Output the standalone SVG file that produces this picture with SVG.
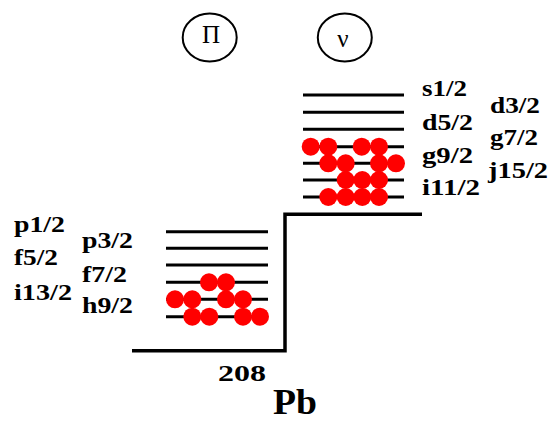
<svg xmlns="http://www.w3.org/2000/svg" width="554" height="421" viewBox="0 0 554 421">
<style>
.lvl{stroke:#000;stroke-width:3;fill:none}
.step{stroke:#000;stroke-width:3.5;fill:none}
.nuc{fill:#ff0000}
.lab{font-family:"Liberation Serif","DejaVu Serif",serif;font-weight:bold;font-size:23.5px;fill:#000}
.sym{font-family:"Liberation Serif",serif;font-size:25px;fill:#000}
.ring{fill:none;stroke:#000;stroke-width:2}
</style>
<rect width="554" height="421" fill="#fff"/>
<g id="connectors">
<polyline class="step" points="132,350.8 285,350.8 285,214.3 422,214.3"/>
</g>
<g id="proton-label">
<ellipse class="ring" cx="209.7" cy="37.5" rx="27" ry="24"/>
<text class="sym" x="211" y="43" text-anchor="middle">Π</text>
</g>
<g id="neutron-label">
<ellipse class="ring" cx="344.8" cy="37.5" rx="27" ry="24"/>
<text class="sym" x="343" y="47" text-anchor="middle">ν</text>
</g>
<g id="proton-levels">
<line class="lvl" x1="166" y1="231.7" x2="268" y2="231.7"/>
<line class="lvl" x1="166" y1="248.3" x2="268" y2="248.3"/>
<line class="lvl" x1="166" y1="265" x2="268" y2="265"/>
<line class="lvl" x1="166" y1="282.3" x2="268" y2="282.3"/>
<line class="lvl" x1="166" y1="299.3" x2="268" y2="299.3"/>
<line class="lvl" x1="166" y1="316.7" x2="268" y2="316.7"/>
<circle class="nuc" cx="209" cy="282.3" r="9"/>
<circle class="nuc" cx="226" cy="282.3" r="9"/>
<circle class="nuc" cx="175" cy="299.3" r="9"/>
<circle class="nuc" cx="192.3" cy="299.3" r="9"/>
<circle class="nuc" cx="226" cy="299.3" r="9"/>
<circle class="nuc" cx="243" cy="299.3" r="9"/>
<circle class="nuc" cx="192.3" cy="316.7" r="9"/>
<circle class="nuc" cx="209.3" cy="316.7" r="9"/>
<circle class="nuc" cx="243" cy="316.7" r="9"/>
<circle class="nuc" cx="260" cy="316.7" r="9"/>
</g>
<g id="neutron-levels">
<line class="lvl" x1="303" y1="95" x2="404" y2="95"/>
<line class="lvl" x1="303" y1="112.3" x2="404" y2="112.3"/>
<line class="lvl" x1="303" y1="129.3" x2="404" y2="129.3"/>
<line class="lvl" x1="303" y1="146.7" x2="404" y2="146.7"/>
<line class="lvl" x1="303" y1="163.3" x2="404" y2="163.3"/>
<line class="lvl" x1="303" y1="180" x2="404" y2="180"/>
<line class="lvl" x1="303" y1="197" x2="404" y2="197"/>
<circle class="nuc" cx="310.7" cy="146.7" r="9"/>
<circle class="nuc" cx="328.3" cy="146.7" r="9"/>
<circle class="nuc" cx="361.7" cy="146.7" r="9"/>
<circle class="nuc" cx="379" cy="146.7" r="9"/>
<circle class="nuc" cx="328.3" cy="163.3" r="9"/>
<circle class="nuc" cx="345.7" cy="163.3" r="9"/>
<circle class="nuc" cx="379" cy="163.3" r="9"/>
<circle class="nuc" cx="396" cy="163.3" r="9"/>
<circle class="nuc" cx="345.7" cy="180" r="9"/>
<circle class="nuc" cx="362.3" cy="180" r="9"/>
<circle class="nuc" cx="379" cy="180" r="9"/>
<circle class="nuc" cx="328.3" cy="197" r="9"/>
<circle class="nuc" cx="345.7" cy="197" r="9"/>
<circle class="nuc" cx="362.3" cy="197" r="9"/>
<circle class="nuc" cx="379" cy="197" r="9"/>
</g>
<g id="proton-labels">
<text class="lab" x="14" y="232" textLength="51" lengthAdjust="spacingAndGlyphs">p1/2</text>
<text class="lab" x="14" y="265" textLength="44" lengthAdjust="spacingAndGlyphs">f5/2</text>
<text class="lab" x="14" y="300" textLength="58" lengthAdjust="spacingAndGlyphs">i13/2</text>
<text class="lab" x="82" y="248" textLength="51" lengthAdjust="spacingAndGlyphs">p3/2</text>
<text class="lab" x="82" y="282" textLength="45" lengthAdjust="spacingAndGlyphs">f7/2</text>
<text class="lab" x="82" y="313" textLength="51" lengthAdjust="spacingAndGlyphs">h9/2</text>
</g>
<g id="neutron-labels">
<text class="lab" x="422" y="96" textLength="45" lengthAdjust="spacingAndGlyphs">s1/2</text>
<text class="lab" x="422" y="130" textLength="51" lengthAdjust="spacingAndGlyphs">d5/2</text>
<text class="lab" x="422" y="163" textLength="51" lengthAdjust="spacingAndGlyphs">g9/2</text>
<text class="lab" x="422" y="195" textLength="58" lengthAdjust="spacingAndGlyphs">i11/2</text>
<text class="lab" x="490" y="113" textLength="50" lengthAdjust="spacingAndGlyphs">d3/2</text>
<text class="lab" x="490" y="145" textLength="48" lengthAdjust="spacingAndGlyphs">g7/2</text>
<text class="lab" x="488" y="178" textLength="60" lengthAdjust="spacingAndGlyphs">j15/2</text>
</g>
<g id="nucleus-label">
<text class="lab" x="218" y="381" textLength="48" lengthAdjust="spacingAndGlyphs">208</text>
<text class="lab" x="273" y="414" textLength="44" lengthAdjust="spacingAndGlyphs" style="font-size:36px">Pb</text>
</g>
</svg>
